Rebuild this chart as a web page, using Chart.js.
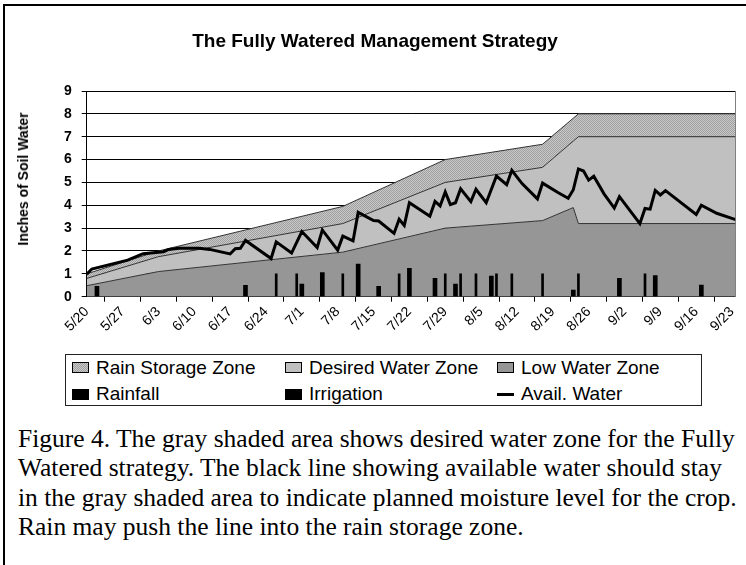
<!DOCTYPE html>
<html>
<head>
<meta charset="utf-8">
<script src="https://cdn.jsdelivr.net/npm/chart.js@4.4.1/dist/chart.umd.min.js"></script>
<style>
    body { margin: 0; background: #fff; }
    #fig { position: relative; width: 746px; height: 565px; overflow: hidden; font-family: "Liberation Sans", Arial, sans-serif; color: #000; }
    #frame-l { position: absolute; left: 3px; top: 4px; width: 2px; height: 561px; background: #000; }
    #frame-t { position: absolute; left: 3px; top: 4px; width: 743px; height: 2px; background: #000; }
    #chart { position: absolute; left: 0; top: 0; }
    #title { position: absolute; left: 0; width: 750px; top: 30px; text-align: center; font-weight: bold; font-size: 19px; line-height: 22px; }
    #ytitle { position: absolute; left: 23px; top: 179px; transform: translate(-50%, -50%) rotate(-90deg); font-weight: bold; font-size: 14px; white-space: nowrap; }
    #legend { position: absolute; left: 65px; top: 354px; width: 635px; height: 50px; border: 1px solid #222; }
    .key { position: absolute; width: 15px; height: 9px; border: 1px solid #000; }
    .txt { position: absolute; font-size: 19px; line-height: 22px; white-space: nowrap; }
    #caption { position: absolute; left: 18px; top: 424px; font-family: "Liberation Serif", "Times New Roman", serif; font-size: 25.5px; line-height: 29.4px; white-space: nowrap; }
</style>
</head>
<body>
<div id="fig">
    <div id="frame-l"></div>
    <div id="frame-t"></div>
    <canvas id="chart" width="746" height="345"></canvas>
    <div id="title">The Fully Watered Management Strategy</div>
    <div id="ytitle">Inches of Soil Water</div>
    <div id="legend"></div>
    <div id="caption">
        Figure 4. The gray shaded area shows desired water zone for the Fully<br>
        Watered strategy. The black line showing available water should stay<br>
        in the gray shaded area to indicate planned moisture level for the crop.<br>
        Rain may push the line into the rain storage zone.
    </div>
</div>
<script>
// x axis: days since 5/20
const tickDays = [0, 7, 14, 21, 28, 35, 42, 49, 56, 63, 70, 77, 84, 91, 98, 105, 112, 119, 126];
const tickLabels = ["5/20", "5/27", "6/3", "6/10", "6/17", "6/24", "7/1", "7/8", "7/15", "7/22",
    "7/29", "8/5", "8/12", "8/19", "8/26", "9/2", "9/9", "9/16", "9/23"];

// zone boundaries (inches)
const zoneDays = [0, 14, 50, 70, 89, 95, 96, 127];
const rainStorageTop = [1.0, 2.0, 3.95, 6.0, 6.67, 7.81, 8.0, 8.0];
const desiredTop = [0.8, 1.75, 3.2, 5.0, 5.66, 6.81, 7.0, 7.0];
const lowTop = [0.48, 1.1, 1.95, 3.0, 3.33, 3.9, 3.2, 3.2];

// rain and irrigation events
const rainDays = [2, 31, 42, 46, 53, 57, 63, 68, 72, 79, 95, 104, 111, 120];
const rainfall = [0.45, 0.5, 0.55, 1.05, 1.43, 0.45, 1.24, 0.8, 0.55, 0.9, 0.29, 0.8, 0.92, 0.51];
const irrigationDays = [37, 41, 50, 61, 70, 73, 76, 80, 83, 89, 96, 109];
const irrigation = [1, 1, 1, 1, 1, 1, 1, 1, 1, 1, 1, 1];

// available water line
const waterDays = [0, 1, 8, 11, 15, 16, 18, 22, 24, 28, 29, 30, 31, 36, 37, 40, 42, 45, 46, 49,
    50, 52, 53, 56, 57, 60, 61, 62, 63, 67, 68, 69, 70, 71, 72, 73, 75, 76, 78, 80,
    82, 83, 85, 88, 89, 92, 94, 95, 96, 97, 98, 99, 101, 103, 104, 108, 109, 110, 111, 112,
    113, 119, 120, 123, 127];
const availWater = [0.98, 1.21, 1.6, 1.88, 1.97, 2.07, 2.12, 2.12, 2.07, 1.87, 2.1, 2.12, 2.46, 1.67, 2.4, 1.91, 2.85, 2.15, 2.92, 2.04,
    2.65, 2.44, 3.69, 3.33, 3.31, 2.77, 3.39, 3.12, 4.11, 3.52, 4.17, 3.97, 4.58, 4.03, 4.11, 4.72, 4.16, 4.7, 4.11, 5.28,
    4.9, 5.53, 4.95, 4.28, 4.97, 4.56, 4.31, 4.68, 5.59, 5.5, 5.1, 5.27, 4.5, 3.88, 4.38, 3.2, 3.86, 3.83, 4.65, 4.45,
    4.64, 3.6, 4.0, 3.65, 3.35];

const pts = (xs, ys) => xs.map((x, i) => ({ x: x, y: ys[i] }));

Chart.defaults.font.family = '"Liberation Sans", Arial, sans-serif';
Chart.defaults.color = "#000";

// stipple fill for the rain storage zone
const dot = document.createElement("canvas");
dot.width = 2;
dot.height = 2;
const dctx = dot.getContext("2d");
dctx.fillStyle = "#c8c8c8";
dctx.fillRect(0, 0, 2, 2);
dctx.fillStyle = "#a0a0a0";
dctx.fillRect(0, 0, 1, 1);
dctx.fillRect(1, 1, 1, 1);
const ctx = document.getElementById("chart").getContext("2d");
const stipple = ctx.createPattern(dot, "repeat");

const zoneLine = { type: "line", borderColor: "#333", borderWidth: 1, pointRadius: 0, tension: 0, order: 3 };

const chart = new Chart(ctx, {
    type: "line",
    data: {
        datasets: [
            { ...zoneLine, label: "Rain Storage Zone", data: pts(zoneDays, rainStorageTop), fill: "+1", backgroundColor: stipple },
            { ...zoneLine, label: "Desired Water Zone", data: pts(zoneDays, desiredTop), fill: "+1", backgroundColor: "#c0c0c0" },
            { ...zoneLine, label: "Low Water Zone", data: pts(zoneDays, lowTop), fill: "origin", backgroundColor: "#969696" },
            { type: "bar", label: "Rainfall", data: pts(rainDays, rainfall), backgroundColor: "#000", barThickness: 4, grouped: false, order: 2 },
            { type: "bar", label: "Irrigation", data: pts(irrigationDays, irrigation), backgroundColor: "#000", barThickness: 2, grouped: false, order: 2 },
            { type: "line", label: "Avail. Water", data: pts(waterDays, availWater), borderColor: "#000", borderWidth: 3,
              pointRadius: 0, tension: 0, fill: false, order: 1 },
        ],
    },
    options: {
        responsive: false,
        animation: false,
        devicePixelRatio: 1,
        layout: { padding: { left: 0, top: 91, right: 0, bottom: 0 } },
        plugins: {
            legend: { display: false },
            tooltip: { enabled: false },
            title: { display: false },
            filler: { drawTime: "beforeDatasetsDraw" },
        },
        scales: {
            x: {
                type: "linear",
                min: 0,
                max: 126.6,
                offset: false,
                afterBuildTicks: (s) => { s.ticks = tickDays.map((v) => ({ value: v })); },
                ticks: {
                    autoSkip: false,
                    minRotation: 45,
                    maxRotation: 45,
                    padding: 2,
                    font: { size: 14 },
                    callback: (v) => tickLabels[tickDays.indexOf(v)],
                },
                grid: { drawOnChartArea: false, drawTicks: true, tickLength: 5, color: "#000" },
                border: { color: "#000" },
                afterFit: (s) => { s.height = 345 - 296.7; },
            },
            y: {
                min: 0,
                max: 9,
                ticks: { stepSize: 1, padding: 10, font: { size: 14, weight: "bold" } },
                grid: { color: "#000", tickLength: 5 },
                border: { color: "#000" },
                afterFit: (s) => { s.width = 86.7; },
            },
            y2: {
                position: "right",
                min: 0,
                max: 9,
                ticks: { display: false },
                grid: { drawOnChartArea: false, drawTicks: false },
                border: { color: "#7f7f7f" },
                afterFit: (s) => { s.width = 746 - 737.3; },
            },
        },
    },
});

// legend in three columns, from the chart's datasets
const keyStyles = [
    "background: repeating-conic-gradient(#a0a0a0 0 25%, #c8c8c8 0 50%) 0 0 / 2px 2px;",
    "background: #c0c0c0;",
    "background: #969696;",
    "background: #000;",
    "background: #000;",
    "border: none; height: 3px; width: 17px; background: #000;",
];
const colX = [6, 219, 431];
const rowY = [12.7, 39.3];
const legend = document.getElementById("legend");
chart.data.datasets.forEach((ds, i) => {
    const col = i % 3;
    const row = Math.floor(i / 3);
    const key = document.createElement("div");
    key.className = "key";
    key.style.cssText = keyStyles[i];
    const h = i === 5 ? 3 : 11;
    key.style.left = colX[col] + "px";
    key.style.top = (rowY[row] - h / 2) + "px";
    legend.appendChild(key);
    const t = document.createElement("div");
    t.className = "txt";
    t.textContent = ds.label;
    t.style.left = (colX[col] + 24) + "px";
    t.style.top = (rowY[row] - 11) + "px";
    legend.appendChild(t);
});
</script>
</body>
</html>
